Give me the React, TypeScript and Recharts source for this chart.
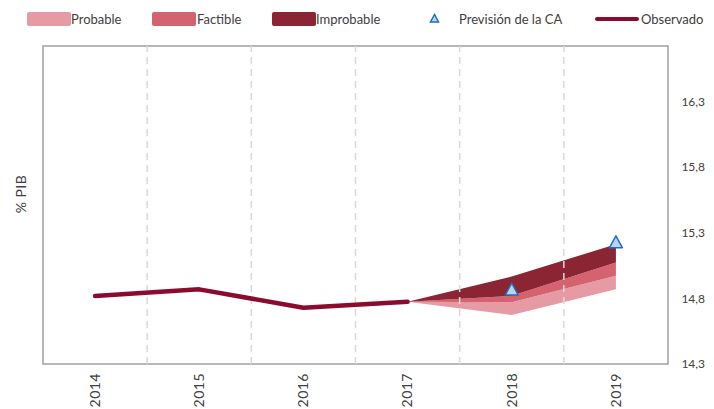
import React from 'react';
import { ComposedChart, Area, Line, XAxis, YAxis, ReferenceLine, ReferenceArea } from 'recharts';

const years = ['2014', '2015', '2016', '2017', '2018', '2019'];
const observed = [14.817, 14.868, 14.728, 14.773, null, null];
const probableLow = [null, null, null, 14.773, 14.673, 14.868];
const probableHigh = [null, null, null, 14.773, 14.769, 14.971];
const factibleHigh = [null, null, null, 14.773, 14.819, 15.073];
const improbableHigh = [null, null, null, 14.773, 14.965, 15.212];
const forecastCA = [null, null, null, null, 14.863, 15.222];
const yTicks = [14.3, 14.8, 15.3, 15.8, 16.3];
const yDomain = [14.3, 16.72];

const COLORS = {
  probable: '#E69AA3',
  factible: '#D5636F',
  improbable: '#8B2433',
  observed: '#8A0B2E',
  caFill: '#BDD5EC',
  caStroke: '#1F6FC0',
  text: '#404040',
  border: '#a0a0a0',
  grid: '#d9d9d9',
};

const FONT = 'Lato, "Open Sans", sans-serif';
const W = 706;
const H = 401;

const data = years.map((y, i) => ({
  i,
  year: y,
  obs: observed[i],
  prob: probableLow[i] != null ? [probableLow[i], probableHigh[i]] : null,
  fact: probableHigh[i] != null ? [probableHigh[i], factibleHigh[i]] : null,
  impr: factibleHigh[i] != null ? [factibleHigh[i], improbableHigh[i]] : null,
  ca: forecastCA[i],
}));

const XTick = (props: any) => {
  const { x, y, payload } = props;
  return (
    <text
      x={x}
      y={y}
      transform={`rotate(-90 ${x} ${y})`}
      textAnchor="end"
      dy="0.35em"
      fill={COLORS.text}
      fontSize={14}
      fontFamily={FONT}
      letterSpacing={0.5}
    >
      {years[payload.value]}
    </text>
  );
};

const YTick = (props: any) => {
  const { x, y, payload } = props;
  return (
    <text
      x={x}
      y={y}
      textAnchor="end"
      dy="0.36em"
      fill={COLORS.text}
      fontSize={12}
      fontFamily={FONT}
    >
      {Number(payload.value).toFixed(1).replace('.', ',')}
    </text>
  );
};

const Tri = (props: any) => {
  const { cx, cy } = props;
  if (cx == null || cy == null || props.value == null) return null;
  return (
    <polygon
      points={`${cx},${cy - 7} ${cx - 6.5},${cy + 5} ${cx + 6.5},${cy + 5}`}
      fill={COLORS.caFill}
      stroke={COLORS.caStroke}
      strokeWidth={1.5}
      strokeLinejoin="round"
    />
  );
};

const legendText: React.CSSProperties = {
  position: 'absolute',
  top: 3,
  fontFamily: FONT,
  fontSize: 13,
  color: COLORS.text,
  lineHeight: '16px',
  whiteSpace: 'nowrap',
};

const Swatch = ({ left, color }: { left: number; color: string }) => (
  <div
    style={{
      position: 'absolute',
      left,
      top: 4,
      width: 44,
      height: 14,
      background: color,
      borderRadius: 2,
    }}
  />
);

export default function App() {
  return (
    <div style={{ position: 'relative', width: W, height: H, background: '#fff' }}>
      <Swatch left={19} color={COLORS.probable} />
      <div style={{ ...legendText, left: 63 }}>Probable</div>
      <Swatch left={144} color={COLORS.factible} />
      <div style={{ ...legendText, left: 189 }}>Factible</div>
      <Swatch left={264} color={COLORS.improbable} />
      <div style={{ ...legendText, left: 308 }}>Improbable</div>
      <svg style={{ position: 'absolute', left: 421, top: 5 }} width={11} height={11}>
        <polygon points="5.5,1.5 1.5,9 9.5,9" fill={COLORS.caFill} stroke={COLORS.caStroke} strokeWidth={1.5} />
      </svg>
      <div style={{ ...legendText, left: 451 }}>Previsión de la CA</div>
      <div
        style={{
          position: 'absolute',
          left: 587,
          top: 9,
          width: 44,
          height: 4,
          borderRadius: 2,
          background: COLORS.observed,
        }}
      />
      <div style={{ ...legendText, left: 633 }}>Observado</div>
      <div
        style={{
          position: 'absolute',
          left: 12,
          top: 186,
          transform: 'translate(-50%, -50%) rotate(-90deg)',
          fontFamily: FONT,
          fontSize: 14,
          letterSpacing: 0.5,
          color: COLORS.text,
          whiteSpace: 'nowrap',
        }}
      >
        % PIB
      </div>
      <div style={{ position: 'absolute', left: 0, top: 0 }}>
        <ComposedChart
          width={W}
          height={H}
          data={data}
          margin={{ top: 38, right: 0, bottom: 0, left: 35 }}
        >
          <XAxis
            dataKey="i"
            type="number"
            domain={[-0.5, 5.5]}
            ticks={[0, 1, 2, 3, 4, 5]}
            interval={0}
            height={45}
            axisLine={false}
            tickLine={false}
            tickSize={0}
            tickMargin={9}
            tick={<XTick />}
          />
          <YAxis
            orientation="right"
            width={46}
            domain={yDomain}
            ticks={yTicks}
            interval={0}
            allowDataOverflow
            axisLine={false}
            tickLine={false}
            tickSize={0}
            tickMargin={37}
            tick={<YTick />}
          />
          {[0.5, 1.5, 2.5, 3.5, 4.5].map((x) => (
            <ReferenceLine key={x} x={x} stroke={COLORS.grid} strokeWidth={1.5} strokeDasharray="7 5" />
          ))}
          <Area
            dataKey="prob"
            type="linear"
            stroke="none"
            fill={COLORS.probable}
            fillOpacity={1}
            isAnimationActive={false}
            activeDot={false}
          />
          <Area
            dataKey="fact"
            type="linear"
            stroke="none"
            fill={COLORS.factible}
            fillOpacity={1}
            isAnimationActive={false}
            activeDot={false}
          />
          <Area
            dataKey="impr"
            type="linear"
            stroke="none"
            fill={COLORS.improbable}
            fillOpacity={1}
            isAnimationActive={false}
            activeDot={false}
          />
          <Line
            dataKey="obs"
            type="linear"
            stroke={COLORS.observed}
            strokeWidth={4.5}
            strokeLinecap="round"
            strokeLinejoin="round"
            dot={false}
            activeDot={false}
            isAnimationActive={false}
          />
          <Line
            dataKey="ca"
            type="linear"
            stroke="none"
            dot={<Tri />}
            activeDot={false}
            isAnimationActive={false}
          />
          <ReferenceArea
            x1={-0.5}
            x2={5.5}
            y1={14.3}
            y2={16.72}
            fill="none"
            stroke={COLORS.border}
            strokeWidth={1.5}
          />
        </ComposedChart>
      </div>
    </div>
  );
}
